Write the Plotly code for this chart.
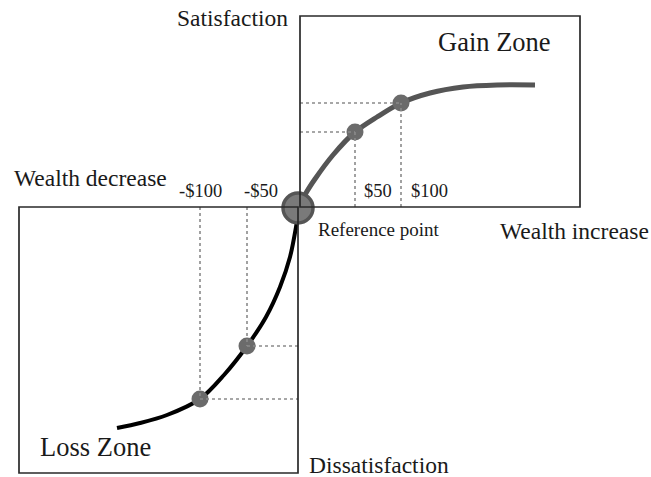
import plotly.graph_objects as go

# Diagram coordinates: x = wealth change (origin = reference point), y = value
gain_curve_x = [0, 7, 16, 34, 56, 78, 102, 131, 164, 198, 236]
gain_curve_y = [0, 14, 28, 52, 75, 90, 104, 114, 120, 122, 122]
loss_curve_x = [0, -3, -9, -19, -33, -52, -75, -99, -132, -159, -182]
loss_curve_y = [0, -20, -50, -80, -110, -139, -168, -192, -208, -216, -221]

gain_pt_x = [56, 102]
gain_pt_y = [75, 104]
gain_pt_labels = ["$50", "$100"]
loss_pt_x = [-52, -99]
loss_pt_y = [-139, -192]
loss_pt_labels = ["-$50", "-$100"]

gain_box = [1, 281, 0, 191]      # x0, x1, y0, y1
loss_box = [-280, -1, -266, 0]

FONT = "Liberation Serif, Times New Roman, serif"
TXT = "#1a1a1a"

fig = go.Figure()

# dotted guide lines
dot = dict(color="#8a8a8a", width=1.6, dash="dot")
for px, py in zip(gain_pt_x, gain_pt_y):
    fig.add_shape(type="line", x0=gain_box[0], x1=px, y0=py, y1=py, line=dot)
    fig.add_shape(type="line", x0=px, x1=px, y0=0, y1=py, line=dot)
for px, py in zip(loss_pt_x, loss_pt_y):
    fig.add_shape(type="line", x0=px, x1=px, y0=0, y1=py, line=dot)
    fig.add_shape(type="line", x0=px, x1=loss_box[1], y0=py, y1=py, line=dot)

# boxes
box_line = dict(color="#2a2a2a", width=1.7)
fig.add_shape(type="rect", x0=gain_box[0], x1=gain_box[1], y0=gain_box[2], y1=gain_box[3], line=box_line)
fig.add_shape(type="rect", x0=loss_box[0], x1=loss_box[1], y0=loss_box[2], y1=loss_box[3], line=box_line)

# curves
fig.add_trace(go.Scatter(x=gain_curve_x, y=gain_curve_y, mode="lines",
                         line=dict(color="#555555", width=5, shape="spline", smoothing=0.9),
                         hoverinfo="skip"))
fig.add_trace(go.Scatter(x=loss_curve_x, y=loss_curve_y, mode="lines",
                         line=dict(color="#000000", width=4, shape="spline", smoothing=0.9),
                         hoverinfo="skip"))

# points
fig.add_trace(go.Scatter(x=gain_pt_x + loss_pt_x, y=gain_pt_y + loss_pt_y, mode="markers",
                         marker=dict(size=17, color="#6b6b6b", line=dict(width=0)),
                         hoverinfo="skip"))
fig.add_trace(go.Scatter(x=[-1], y=[-1], mode="markers",
                         marker=dict(size=30, color="#7a7a7a", line=dict(color="#555555", width=3.5)),
                         hoverinfo="skip"))

def ann(text, x, y, size, xanchor="left"):
    fig.add_annotation(x=x, y=y, text=text, showarrow=False, xanchor=xanchor, yanchor="middle",
                       font=dict(family=FONT, size=size, color=TXT))

ann("Satisfaction", -9, 189, 23.5, "right")
ann("Gain Zone", 195, 165, 26.5, "center")
ann("Wealth decrease", -287, 29, 23.5)
ann("Wealth increase", 199, -24, 23.5)
ann("Reference point", 17, -22, 19)
ann("Loss Zone", -261, -240, 26.5)
ann("Dissatisfaction", 8, -258, 23.5)
ann(gain_pt_labels[0], gain_pt_x[0] + 7, 16, 18.5)
ann(gain_pt_labels[1], gain_pt_x[1] + 8, 16, 18.5)
ann(loss_pt_labels[0], loss_pt_x[0] - 5, 16, 18.5)
ann(loss_pt_labels[1], loss_pt_x[1], 16, 18.5, "center")

fig.update_layout(
    width=651, height=477,
    margin=dict(l=0, r=0, t=0, b=0),
    paper_bgcolor="white", plot_bgcolor="white",
    showlegend=False,
    xaxis=dict(range=[-299, 352], visible=False, fixedrange=True),
    yaxis=dict(range=[-270, 207], visible=False, fixedrange=True),
)

fig.write_html("out.html", config={"displayModeBar": False},
               post_script="document.body.style.margin='0';document.body.style.overflow='hidden';")
